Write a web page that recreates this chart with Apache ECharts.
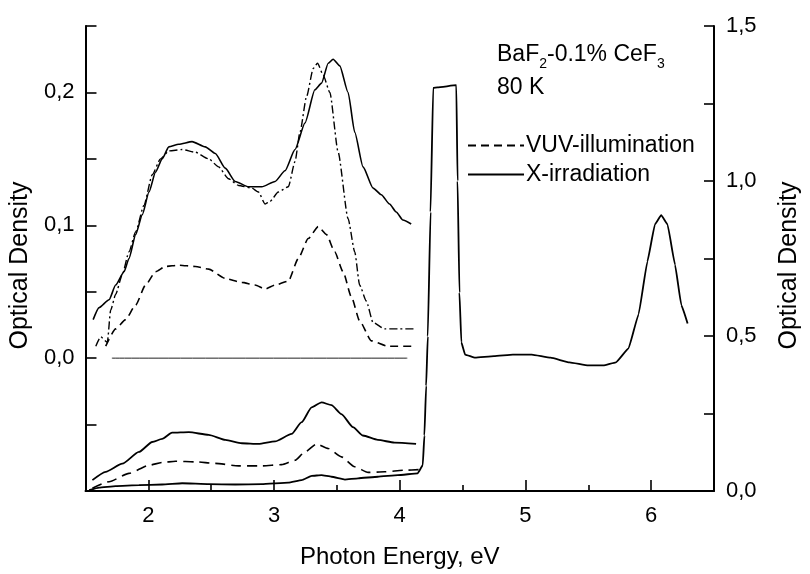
<!DOCTYPE html>
<html>
<head>
<meta charset="utf-8">
<script src="https://cdn.jsdelivr.net/npm/echarts@6/dist/echarts.min.js"></script>
<style>html,body{margin:0;padding:0;background:#fff}#c{width:810px;height:574px}</style>
</head>
<body>
<div id="c"></div>
<script>
// ---- data (photon energy eV, optical density) ----
// upper panel, left axis
const upperX = [[1.561,0.029],[1.608,0.038],[1.688,0.044],[1.74,0.055],[1.807,0.065],[1.846,0.075],[1.899,0.093],[1.952,0.108],[2.005,0.125],[2.057,0.140],[2.11,0.150],[2.163,0.159],[2.242,0.161],[2.348,0.163],[2.453,0.159],[2.533,0.154],[2.612,0.143],[2.691,0.133],[2.797,0.129],[2.903,0.129],[3.008,0.133],[3.087,0.141],[3.167,0.157],[3.246,0.177],[3.325,0.202],[3.378,0.207],[3.431,0.222],[3.47,0.225],[3.523,0.220],[3.589,0.200],[3.642,0.170],[3.708,0.144],[3.788,0.128],[3.853,0.123],[3.919,0.116],[3.972,0.110],[4.025,0.104],[4.091,0.101]];
const upperDashDot = [[1.582,0.009],[1.621,0.016],[1.674,0.012],[1.70,0.036],[1.74,0.048],[1.793,0.063],[1.846,0.080],[1.899,0.095],[1.965,0.115],[2.031,0.138],[2.097,0.150],[2.163,0.156],[2.269,0.157],[2.374,0.155],[2.48,0.150],[2.559,0.144],[2.638,0.135],[2.718,0.130],[2.823,0.128],[2.876,0.125],[2.929,0.116],[2.968,0.118],[3.034,0.125],[3.114,0.129],[3.167,0.148],[3.206,0.170],[3.259,0.197],[3.312,0.218],[3.346,0.222],[3.391,0.213],[3.444,0.200],[3.51,0.155],[3.589,0.105],[3.642,0.080],[3.681,0.055],[3.734,0.043],[3.787,0.027],[3.879,0.022],[3.985,0.022],[4.117,0.022]];
const upperVUV = [[1.661,0.009],[1.74,0.022],[1.819,0.029],[1.899,0.040],[1.978,0.055],[2.057,0.065],[2.136,0.069],[2.242,0.070],[2.374,0.069],[2.48,0.067],[2.612,0.060],[2.744,0.057],[2.849,0.055],[2.929,0.052],[3.008,0.055],[3.114,0.058],[3.193,0.075],[3.272,0.090],[3.351,0.099],[3.417,0.093],[3.483,0.080],[3.549,0.065],[3.616,0.046],[3.681,0.028],[3.774,0.013],[3.906,0.009],[4.117,0.009]];
const zeroLine = [[1.71,0],[4.06,0]];
// lower panel, right axis
const lowerX = [[1.555,0.035],[1.661,0.062],[1.793,0.088],[1.925,0.126],[2.031,0.158],[2.11,0.168],[2.189,0.188],[2.322,0.190],[2.48,0.181],[2.612,0.165],[2.744,0.154],[2.876,0.152],[3.008,0.160],[3.14,0.184],[3.22,0.222],[3.299,0.270],[3.378,0.286],[3.457,0.277],[3.536,0.248],[3.628,0.206],[3.707,0.179],[3.826,0.165],[3.958,0.156],[4.13,0.152]];
const lowerVUV = [[1.555,0.009],[1.688,0.030],[1.846,0.057],[2.005,0.083],[2.11,0.092],[2.216,0.096],[2.374,0.094],[2.533,0.089],[2.718,0.081],[2.903,0.081],[3.061,0.085],[3.167,0.099],[3.246,0.126],[3.339,0.152],[3.431,0.137],[3.536,0.110],[3.642,0.078],[3.748,0.060],[3.879,0.062],[4.038,0.067],[4.157,0.069]];
const lowerBase = [[1.529,0.003],[1.608,0.011],[1.74,0.016],[1.925,0.019],[2.11,0.021],[2.269,0.025],[2.48,0.022],[2.691,0.021],[2.903,0.022],[3.114,0.027],[3.22,0.035],[3.299,0.049],[3.378,0.051],[3.457,0.046],[3.563,0.037],[3.669,0.041],[3.826,0.046],[3.985,0.051],[4.143,0.057],[4.183,0.083],[4.196,0.179],[4.21,0.339],[4.223,0.499],[4.245,0.9],[4.266,1.30],[4.3,1.302],[4.45,1.309],[4.46,1.0],[4.475,0.64],[4.49,0.48],[4.52,0.44],[4.6,0.43],[4.75,0.435],[4.9,0.44],[5.05,0.44],[5.2,0.43],[5.35,0.415],[5.5,0.405],[5.62,0.405],[5.72,0.415],[5.82,0.46],[5.9,0.57],[5.97,0.74],[6.03,0.86],[6.08,0.89],[6.13,0.86],[6.19,0.73],[6.24,0.6],[6.29,0.54]];
// axes
const xTicks = [2,3,4,5,6];
const xHalfTicks = [2.5,3.5,4.5,5.5];
const leftLabels = [0,0.1,0.2];
const rightLabels = [0,0.5,1.0,1.5];

const FONT = 'Liberation Sans, Arial, Helvetica, sans-serif';
const FS = 23;   // annotation / legend
const TL = 22;   // tick labels
const TT = 25;   // axis titles
const comma = v => Number(v).toFixed(1).replace('.', ',');
const lineS = (name, data, yIdx, type, width, color) => ({
  name, type: 'line', data, xAxisIndex: 0, yAxisIndex: yIdx, symbol: 'none',
  smooth: 0.2, smoothMonotone: 'x', silent: true, z: 3,
  itemStyle: {color: '#000'},
  lineStyle: {color: color || '#000', width: width, type: type}
});

const chart = echarts.init(document.getElementById('c'), null, {renderer: 'canvas'});
chart.setOption({
  animation: false,
  backgroundColor: '#fff',
  textStyle: {fontFamily: FONT},
  grid: {left: 83, right: 96, top: 26, bottom: 78, containLabel: false},
  title: {
    text: '{a|BaF}{s|2}{a|-0.1% CeF}{s|3}\n{a|80 K}',
    left: 497, top: 38, padding: 0,
    textStyle: {fontWeight: 'normal', rich: {
      a: {fontSize: FS, fontFamily: FONT, fontWeight: 'normal', color: '#000', lineHeight: 33},
      s: {fontSize: 14, fontFamily: FONT, fontWeight: 'normal', color: '#000', lineHeight: 14, verticalAlign: 'bottom'}
    }}
  },
  legend: {
    data: ['VUV-illumination', 'X-irradiation'], orient: 'vertical',
    left: 467, top: 134, itemWidth: 56, itemHeight: 16, itemGap: 6,
    selectedMode: false, padding: 0,
    itemStyle: {opacity: 0},
    textStyle: {fontSize: FS, color: '#000', fontFamily: FONT, padding: [0,0,0,-3]}
  },
  xAxis: [{
    type: 'value', min: 1.5, max: 6.5, interval: 0.5, position: 'bottom',
    name: 'Photon Energy, eV', nameLocation: 'middle', nameGap: 54,
    nameTextStyle: {fontSize: 24, color: '#000', fontFamily: FONT},
    axisLine: {show: true, onZero: false, lineStyle: {color: '#000', width: 2}},
    axisTick: {show: true, inside: true, length: 11, customValues: xTicks, lineStyle: {color: '#000', width: 1.6}},
    axisLabel: {show: true, margin: 14, fontSize: TL, color: '#000', fontFamily: FONT, customValues: xTicks, formatter: v => String(Math.round(v))},
    splitLine: {show: false}
  }, {
    type: 'value', min: 1.5, max: 6.5, interval: 0.5, position: 'bottom',
    axisLine: {show: false, onZero: false},
    axisTick: {show: true, inside: true, length: 6, customValues: xHalfTicks, lineStyle: {color: '#000', width: 1.6}},
    axisLabel: {show: false}, splitLine: {show: false}
  }],
  yAxis: [{
    type: 'value', min: -0.1, max: 0.25, interval: 0.05, position: 'left',
    name: 'Optical Density', nameLocation: 'middle', nameRotate: 90, nameGap: 48,
    nameTextStyle: {fontSize: TT, color: '#000', fontFamily: FONT, padding: [0, 14, 0, 0]},
    axisLine: {show: true, onZero: false, lineStyle: {color: '#000', width: 2}},
    axisTick: {show: true, inside: true, length: 11, lineStyle: {color: '#000', width: 1.6}},
    axisLabel: {show: true, margin: 11, fontSize: TL, color: '#000', fontFamily: FONT, customValues: leftLabels, formatter: comma},
    splitLine: {show: false}
  }, {
    type: 'value', min: 0, max: 1.5, interval: 0.25, position: 'right',
    name: 'Optical Density', nameLocation: 'middle', nameRotate: 90, nameGap: 63,
    nameTextStyle: {fontSize: TT, color: '#000', fontFamily: FONT, padding: [0, 14, 0, 0]},
    axisLine: {show: true, onZero: false, lineStyle: {color: '#000', width: 2}},
    axisTick: {show: true, inside: true, length: 10, lineStyle: {color: '#000', width: 1.6}},
    axisLabel: {show: true, margin: 12, fontSize: TL, color: '#000', fontFamily: FONT, customValues: rightLabels, formatter: comma},
    splitLine: {show: false}
  }],
  series: [
    lineS('VUV-illumination', upperVUV, 0, [8, 5], 1.6),
    lineS('X-irradiation', upperX, 0, 'solid', 1.6),
    lineS('dashdot', upperDashDot, 0, [8, 3, 2, 3], 1.4),
    lineS('zero', zeroLine, 0, 'solid', 1, '#222'),
    lineS('VUV-illumination', lowerVUV, 1, [10, 6], 1.6),
    lineS('X-irradiation', lowerX, 1, 'solid', 1.8),
    Object.assign(lineS('base', lowerBase, 1, 'solid', 1.8), {smooth: 0.1})
  ]
});
</script>
</body>
</html>
